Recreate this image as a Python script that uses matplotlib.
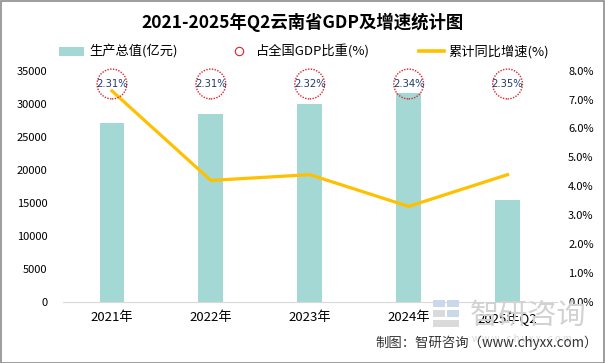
import matplotlib
matplotlib.use("Agg")
import matplotlib.pyplot as plt
from matplotlib.lines import Line2D
from matplotlib.patches import Patch, Rectangle
from matplotlib.transforms import blended_transform_factory
import numpy as np

plt.rcParams['font.family'] = ['Noto Sans CJK SC', 'DejaVu Sans']

categories = ['2021年', '2022年', '2023年', '2024年', '2025年Q2']
gdp = [27147, 28450, 29950, 31560, 15400]
share = [2.31, 2.31, 2.32, 2.34, 2.35]
growth = [7.3, 4.2, 4.4, 3.3, 4.4]

W, H = 605, 363
fig = plt.figure(figsize=(W/100, H/100), dpi=100)
left, right = 62.5, 557
top, bottom = 70.7, 301.7

# watermark (behind)
fig.text(528/W, 1 - 316/H, '智研咨询', ha='center', va='center', fontsize=21,
         color='#D2D2D2', zorder=0)
fig.text(522/W, 1 - 339/H, 'w w w . c h y x x . c o m', ha='center', va='center',
         fontsize=7, color='#D8D8D8', zorder=0)
for (lx, ly, lw_, lh, c) in [(433, 300, 12, 7, '#C9D9EA'), (447, 300, 12, 7, '#C9D9EA'),
                             (433, 310, 12, 7, '#DADADA'), (447, 310, 12, 7, '#C9D9EA'),
                             (433, 320, 26, 7, '#DADADA')]:
    fig.patches.append(Rectangle((lx/W, 1 - (ly+lh)/H), lw_/W, lh/H, transform=fig.transFigure,
                                 facecolor=c, edgecolor='none', zorder=0))

ax = fig.add_axes([left/W, (H-bottom)/H, (right-left)/W, (bottom-top)/H])
ax.patch.set_alpha(0)
ax2 = ax.twinx()

x = np.arange(len(categories))
bar_color = '#A3D8D4'
ax.bar(x, gdp, width=0.25, color=bar_color, zorder=2)
ax.set_xlim(-0.5, len(categories)-0.5)
ax.set_ylim(0, 35000)
ax.set_yticks(np.arange(0, 35001, 5000))
ax.set_xticks(x)
ax.set_xticklabels(categories)

ax2.plot(x, growth, color='#FFC000', lw=2.3, zorder=3)
ax2.set_ylim(0, 8)
ax2.set_yticks(np.arange(0, 8.01, 1))
ax2.set_yticklabels([f'{v:.1f}%' for v in np.arange(0, 8.01, 1)])

for a in (ax, ax2):
    for s in a.spines.values():
        s.set_visible(False)
    a.tick_params(length=0, labelsize=8, colors='black')
ax.spines['bottom'].set_visible(True)
ax.spines['bottom'].set_color('#D9D9D9')
ax.tick_params(axis='x', pad=7, labelsize=9.5)
ax.tick_params(axis='y', pad=11)
ax2.tick_params(axis='y', pad=8)

# ratio circles
trans = blended_transform_factory(ax2.transData, ax2.transAxes)
cy = [1 - (84 - top)/(bottom - top)] * len(share)
ax2.scatter(x, cy, s=460, marker='o', facecolors='none', edgecolors='#E0202A',
            linewidths=1.0, linestyle=(0, (1, 1)), transform=trans, zorder=5, clip_on=False)
for xi, yi, v in zip(x, cy, share):
    ax2.text(xi, yi, f'{v:.2f}%', transform=trans, ha='center', va='center',
             fontsize=7.2, color='#1F3A6E', zorder=6, family=['DejaVu Sans'])

# title
fig.text(0.5, 1 - 22/H, '2021-2025年Q2云南省GDP及增速统计图', ha='center', va='center',
         fontsize=12.5, fontweight='bold')

# legend
handles = [Patch(facecolor=bar_color, edgecolor='none'),
           Line2D([], [], marker='o', ls='none', markerfacecolor='none',
                  markeredgecolor='#E0202A', markersize=6, markeredgewidth=0.8),
           Line2D([], [], color='#FFC000', lw=2.6)]
labels = ['生产总值(亿元)', '占全国GDP比重(%)', '累计同比增速(%)']
fig.legend(handles, labels, loc='center', bbox_to_anchor=(0.503, 1 - 52/H), ncol=3,
           frameon=False, fontsize=9.5, handlelength=1.9, columnspacing=3.7,
           handletextpad=0.35)

fig.text(598/W, 1 - 343/H, '制图：智研咨询（www.chyxx.com）', ha='right', va='center',
         fontsize=9.6, color='#333333')

# border
fig.patches.append(Rectangle((0.001, 0.001), 0.997, 0.997, transform=fig.transFigure,
                             fill=False, edgecolor='#8C8C8C', lw=1.2))

fig.savefig('out.png', dpi=100)
